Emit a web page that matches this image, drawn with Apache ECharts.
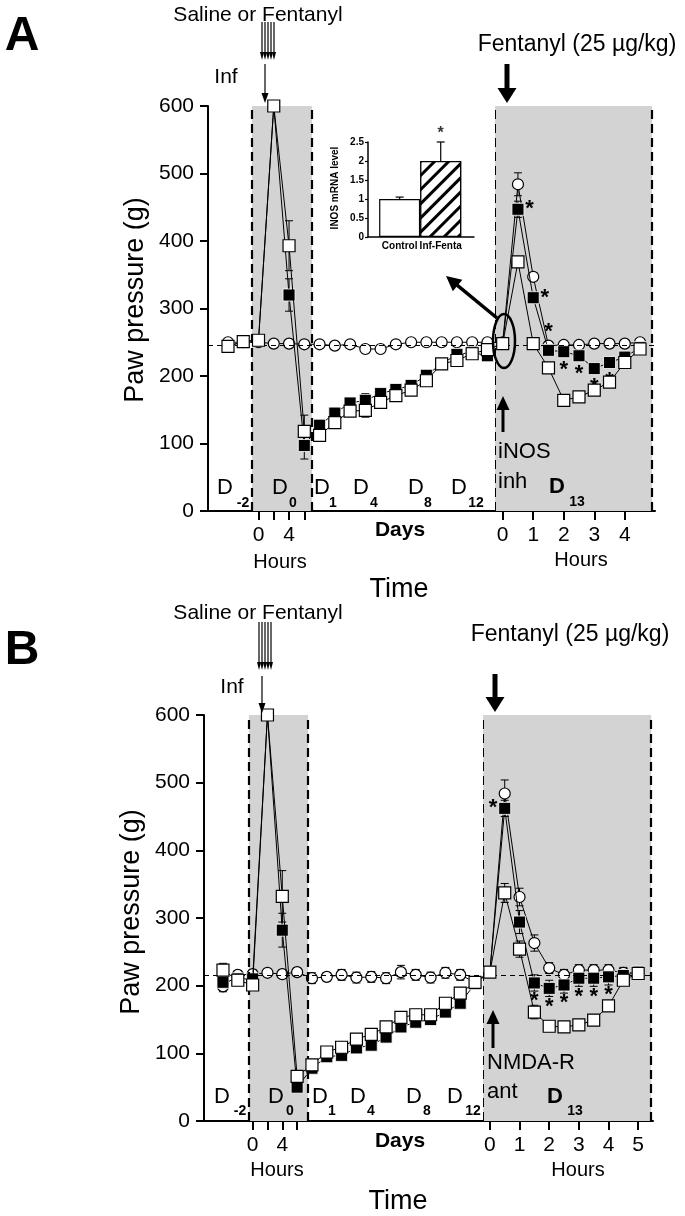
<!DOCTYPE html>
<html><head><meta charset="utf-8">
<script src="https://cdn.jsdelivr.net/npm/echarts@6/dist/echarts.min.js"></script>
<style>html,body{margin:0;padding:0;background:#fff}#c{width:685px;height:1216px}</style>
</head><body><div id="c"></div>
<script>
// ---------------- DATA ----------------
// x = time slot index (D-2 baselines, D0 hours, days D1..D12, D13 half-hours)
const yTicks = [0, 100, 200, 300, 400, 500, 600];
// Panel A
const circlesA = [250,250,250,248,248,247,247,245,247,240,240,247,250,250,250,250,250,250, 250,484,347,245,246,246,248,248,248,250];
const openA    = [244,251,253,600,393,118,112,131,148,149,161,171,179,193,218,223,233,239, 248,369,248,212,164,169,179,191,220,240];
const filledA  = [244,251,253,600,320, 97,127,145,160,164,174,180,186,201,218,232,235,230, 248,447,316,238,236,230,211,220,228,242];
const errCircA   = [0,0,0,0,0,0,0,0,0,0,0,0,0,0,0,0,0,0, 0,17,6,0,0,0,0,0,0,0];
const errOpenA   = [8,8,6,0,37,24,6,6,6,10,6,6,6,6,6,6,6,6, 0,8,0,6,6,6,6,6,6,6];
const errFilledA = [6,6,6,0,24,20,8,8,8,10,6,6,6,6,6,6,6,6, 0,12,8,6,6,6,6,6,6,6];
const starsA = ['','','','','','','','','','','','','','','','','','', '','right','right','top','bottom','bottom','bottom','bottom','',''];
const baselineA = 245;
const hourTicksA  = [2,3,4,5, 18,20,22,24,26];
const hourLabelsA = ['0','','4','', '0','1','2','3','4'];
// Panel B
const circlesB = [199,216,217,219,217,220,211,213,216,212,213,211,220,216,212,219,216,205, 220,484,331,263,226,216,223,223,223,219,219];
const openB    = [223,208,201,600,332, 66, 83,102,109,121,128,139,153,157,157,174,189,205, 220,337,254,161,140,139,142,149,170,208,218];
const filledB  = [205,210,210,600,282, 50, 78, 95, 97,108,112,124,139,146,150,161,174,203, 220,462,294,204,196,201,211,211,213,215,220];
const errCircB   = [8,6,6,0,6,6,8,6,8,8,8,8,10,8,8,8,8,8, 8,20,13,12,8,8,8,8,8,8,8];
const errOpenB   = [10,8,8,0,38,8,8,8,8,8,8,8,8,8,8,8,8,8, 8,14,12,10,8,8,8,8,8,8,8];
const errFilledB = [6,6,6,0,25,6,6,6,6,6,6,6,6,6,6,6,6,6, 6,12,17,12,12,12,12,12,12,10,8];
const starsB = ['','','','','','','','','','','','','','','','','','', '','left','','bottom','bottom','bottom','bottom','bottom','bottom','',''];
const baselineB = 216;
const hourTicksB  = [2,3,4,5, 18,20,22,24,26,28];
const hourLabelsB = ['0','','4','', '0','1','2','3','4','5'];
// Inset (iNOS mRNA level)
const insetCats = ['Control', 'Inf-Fenta'];
const insetVals = [1.0, 2.0];
const insetErr  = [0.05, 0.5];
const insetStars = ['', '*'];
const insetTicks = [0, 0.5, 1, 1.5, 2, 2.5];

// ---------------- HELPERS ----------------
const FF = '"Liberation Sans", Arial, Helvetica, sans-serif';
function errRender(params, api) {
  const x = api.value(0), v = api.value(1), e = api.value(2);
  if (!e) return null;
  const t = api.coord([x, v + e]), b = api.coord([x, v - e]);
  const w = 4, st = {stroke: '#000', lineWidth: 1};
  return {type: 'group', children: [
    {type: 'line', shape: {x1: t[0], y1: t[1], x2: b[0], y2: b[1]}, style: st},
    {type: 'line', shape: {x1: t[0]-w, y1: t[1], x2: t[0]+w, y2: t[1]}, style: st},
    {type: 'line', shape: {x1: b[0]-w, y1: b[1], x2: b[0]+w, y2: b[1]}, style: st}]};
}
function errSeries(idx, vals, errs) {
  return {type: 'custom', xAxisIndex: idx, yAxisIndex: idx, z: 2, silent: true,
    renderItem: errRender, encode: {x: 0, y: 1},
    data: vals.map((v, i) => [i, v, errs[i]])};
}
function panelSeries(idx, circ, open, filled, eC, eO, eF, stars, baseline, shades, edges) {
  const lineStyle = {color: '#000', width: 1};
  return [
    {type: 'line', xAxisIndex: idx, yAxisIndex: idx, z: 1, silent: true, showSymbol: false, symbol: 'none',
     lineStyle: {width: 0, opacity: 0}, data: circ.map((v, i) => [i, v]),
     markArea: {silent: true, itemStyle: {color: '#d3d3d3'},
       data: shades.map(s => [{xAxis: s[0], yAxis: 0}, {xAxis: s[1], yAxis: 600}])},
     markLine: {silent: true, symbol: ['none', 'none'], label: {show: false}, animation: false,
       data: [{yAxis: baseline, lineStyle: {color: '#000', width: 1.2, type: [5, 4]}}].concat(
         edges.map(e => ({xAxis: e[0], lineStyle: {color: '#000', width: e[1], type: [9, 5]}})))}},
    errSeries(idx, circ, eC), errSeries(idx, filled, eF), errSeries(idx, open, eO),
    {type: 'line', xAxisIndex: idx, yAxisIndex: idx, z: 3, symbol: 'circle', symbolSize: 11,
     lineStyle, itemStyle: {color: '#fff', borderColor: '#000', borderWidth: 1.2},
     data: circ.map((v, i) => [i, v])},
    {type: 'line', xAxisIndex: idx, yAxisIndex: idx, z: 4, symbol: 'rect', symbolSize: 12,
     lineStyle, itemStyle: {color: '#000', borderColor: '#fff', borderWidth: 0.8},
     data: filled.map((v, i) => ({value: [i, v], label: stars[i] ? {show: true, formatter: '*',
       position: stars[i], distance: 1, fontSize: 22, fontWeight: 'bold', color: '#000', fontFamily: FF} : {show: false}}))},
    {type: 'line', xAxisIndex: idx, yAxisIndex: idx, z: 5, symbol: 'rect', symbolSize: 12,
     lineStyle, itemStyle: {color: '#fff', borderColor: '#000', borderWidth: 1.2},
     data: open.map((v, i) => [i, v])}
  ];
}
function xAxisFor(idx, min, max, ticks, labels) {
  const map = {};
  ticks.forEach((t, i) => { map[t] = labels[i]; });
  return {type: 'value', gridIndex: idx, min, max, splitLine: {show: false},
    axisLine: {show: true, onZero: false, lineStyle: {color: '#000', width: 2}},
    axisTick: {show: true, customValues: ticks, length: 9, lineStyle: {color: '#000', width: 2}},
    axisLabel: {customValues: ticks.filter((t, i) => labels[i] !== ''), formatter: v => map[v] ?? '',
      fontSize: 21, color: '#000', margin: 14, fontFamily: FF}};
}
function yAxisFor(idx) {
  return {type: 'value', gridIndex: idx, min: yTicks[0], max: yTicks[yTicks.length - 1], interval: 100,
    splitLine: {show: false}, axisLine: {show: true, onZero: false, lineStyle: {color: '#000', width: 2}},
    axisTick: {show: true, length: 8, lineStyle: {color: '#000', width: 2}},
    axisLabel: {fontSize: 21, color: '#000', margin: 14, fontFamily: FF}};
}
function T(text, x, y, size, o) {
  o = o || {};
  return {type: 'text', x, y, rotation: o.rot || 0, z: 100,
    style: {text, fontSize: size, fontFamily: FF, fontWeight: o.bold ? 'bold' : 'normal', fill: '#000',
      align: o.align || 'center', verticalAlign: 'middle'}};
}
function arrow(x1, y1, x2, y2, lw, hw, hl) {
  const dx = x2 - x1, dy = y2 - y1, L = Math.hypot(dx, dy), ux = dx / L, uy = dy / L;
  const bx = x2 - ux * hl, by = y2 - uy * hl, px = -uy, py = ux;
  return [
    {type: 'line', z: 100, shape: {x1, y1, x2: bx + ux, y2: by + uy}, style: {stroke: '#000', lineWidth: lw}},
    {type: 'polygon', z: 100, shape: {points: [[x2, y2], [bx + px * hw / 2, by + py * hw / 2], [bx - px * hw / 2, by - py * hw / 2]]},
     style: {fill: '#000'}}];
}
function D(x, y, sub, sx, sy, bold) {
  return [T('D', x, y, 22, {bold}), T(sub, sx, sy, 14, {bold: true})];
}

// ---------------- GRAPHICS (annotations) ----------------
let g = [];
// Panel A
g.push(T('A', 22, 37, 48, {bold: true}));
g.push(T('Saline or Fentanyl', 258, 15, 21));
[262, 265, 268, 271, 274].forEach(x => { g = g.concat(arrow(x, 22, x, 60, 1.2, 4, 8)); });
g.push(T('Inf', 226, 77, 21));
g = g.concat(arrow(265, 64, 265, 103, 1.2, 7, 10));
g.push(T('Fentanyl (25 µg/kg)', 577, 45, 23));
g = g.concat(arrow(507, 64, 507, 103, 5, 19, 15));
g.push({type: 'ellipse', z: 100, shape: {cx: 504, cy: 341, rx: 11, ry: 27}, style: {fill: 'none', stroke: '#000', lineWidth: 2.5}});
g = g.concat(arrow(497, 318, 446, 276, 3.5, 15, 15));
g = g.concat(arrow(503, 432, 503, 396, 3, 13, 14));
g.push(T('iNOS', 498, 452, 22, {align: 'left'}));
g.push(T('inh', 498, 482, 22, {align: 'left'}));
g = g.concat(D(225, 488, '-2', 243, 503), D(280, 488, '0', 293, 503), D(322, 488, '1', 333, 503),
  D(361, 488, '4', 374, 503), D(416, 488, '8', 428, 503), D(459, 488, '12', 476, 503), D(557, 487, '13', 577, 502, true));
g.push(T('Days', 400, 530, 21, {bold: true}));
g.push(T('Hours', 280, 562, 20));
g.push(T('Hours', 581, 560, 20));
g.push(T('Time', 399, 590, 27));
g.push(T('Paw pressure (g)', 136, 300, 27, {rot: Math.PI / 2}));
g.push(T('INOS mRNA level', 335, 188, 10, {rot: Math.PI / 2, bold: true}));
// Panel B
g.push(T('B', 22, 651, 48, {bold: true}));
g.push(T('Saline or Fentanyl', 258, 613, 21));
[259, 262, 265, 268, 271].forEach(x => { g = g.concat(arrow(x, 622, x, 670, 1.2, 4, 8)); });
g.push(T('Inf', 232, 687, 21));
g = g.concat(arrow(262, 676, 262, 713, 1.2, 7, 10));
g.push(T('Fentanyl (25 µg/kg)', 570, 635, 23));
g = g.concat(arrow(495, 674, 495, 712, 5, 19, 15));
g = g.concat(arrow(493, 1048, 493, 1010, 3, 13, 14));
g.push(T('NMDA-R', 487, 1063, 22, {align: 'left'}));
g.push(T('ant', 487, 1092, 22, {align: 'left'}));
g = g.concat(D(222, 1097, '-2', 240, 1111), D(276, 1097, '0', 290, 1111), D(320, 1097, '1', 332, 1111),
  D(358, 1097, '4', 371, 1111), D(414, 1097, '8', 427, 1111), D(455, 1097, '12', 473, 1111), D(555, 1097, '13', 575, 1111, true));
g.push(T('Days', 400, 1141, 21, {bold: true}));
g.push(T('Hours', 277, 1170, 20));
g.push(T('Hours', 578, 1170, 20));
g.push(T('Time', 398, 1202, 27));
g.push(T('Paw pressure (g)', 132, 912, 27, {rot: Math.PI / 2}));

// ---------------- CHART ----------------
const chart = echarts.init(document.getElementById('c'), null, {renderer: 'canvas'});
function insetErrRender(params, api) {
  const i = params.dataIndex, v = insetVals[i], e = insetErr[i];
  const t = api.coord([i, v + e]), b = api.coord([i, v]);
  const w = 4, st = {stroke: '#000', lineWidth: 1.2};
  return {type: 'group', children: [
    {type: 'line', shape: {x1: t[0], y1: t[1], x2: b[0], y2: b[1]}, style: st},
    {type: 'line', shape: {x1: t[0]-w, y1: t[1], x2: t[0]+w, y2: t[1]}, style: st}]};
}
const series = [].concat(
  panelSeries(0, circlesA, openA, filledA, errCircA, errOpenA, errFilledA, starsA, baselineA,
    [[1.57, 5.5], [17.5, 27.79]], [[1.57, 2.2], [5.5, 2.2], [17.5, 1], [27.79, 2.2]]),
  panelSeries(1, circlesB, openB, filledB, errCircB, errOpenB, errFilledB, starsB, baselineB,
    [[1.75, 5.74], [17.54, 28.88]], [[1.75, 2.2], [5.74, 2.2], [17.54, 1], [28.88, 2.2]]),
  [
    {type: 'bar', xAxisIndex: 2, yAxisIndex: 2, barWidth: 41, z: 10, silent: true,
     data: insetVals.map((v, i) => ({value: [i, v], itemStyle: i === 0 ?
       {color: '#fff', borderColor: '#000', borderWidth: 1.2} :
       {color: '#fff', borderColor: '#000', borderWidth: 1.2,
        decal: {symbol: 'rect', symbolSize: 1, dashArrayX: [[1, 0]], dashArrayY: [2.5, 7], rotation: -Math.PI / 4,
                color: '#000', backgroundColor: '#fff'}}}))},
    {type: 'custom', xAxisIndex: 2, yAxisIndex: 2, z: 11, silent: true, renderItem: insetErrRender,
     encode: {x: 0, y: 1}, data: insetVals.map((v, i) => [i, v])},
    {type: 'scatter', xAxisIndex: 2, yAxisIndex: 2, z: 12, symbolSize: 0, silent: true,
     data: insetVals.map((v, i) => ({value: [i, v + insetErr[i]],
       label: {show: !!insetStars[i], formatter: insetStars[i] || ' ', position: 'top', distance: 0,
         fontSize: 16, fontWeight: 'bold', color: '#000'}}))}
  ]);
chart.setOption({
  animation: false,
  backgroundColor: '#fff',
  grid: [
    {left: 208, top: 106, width: 447, height: 405},
    {left: 204, top: 715, width: 449, height: 406},
    {left: 368, top: 142, width: 106, height: 95, z: 10}
  ],
  xAxis: [
    xAxisFor(0, -1.31, 27.98, hourTicksA, hourLabelsA),
    xAxisFor(1, -1.28, 29.0, hourTicksB, hourLabelsB),
    {type: 'value', gridIndex: 2, min: -0.77, max: 1.81, splitLine: {show: false},
     axisLine: {show: true, onZero: false, lineStyle: {color: '#000', width: 1.5}}, axisTick: {show: false},
     axisLabel: {customValues: [0, 1], formatter: v => insetCats[Math.round(v)] || '', fontSize: 10, fontWeight: 'bold',
       color: '#000', margin: 4, fontFamily: FF}}
  ],
  yAxis: [
    yAxisFor(0), yAxisFor(1),
    {type: 'value', gridIndex: 2, min: insetTicks[0], max: insetTicks[insetTicks.length - 1], interval: 0.5,
     splitLine: {show: false}, axisLine: {show: true, onZero: false, lineStyle: {color: '#000', width: 1.5}},
     axisTick: {show: true, length: 3, lineStyle: {color: '#000', width: 1.2}},
     axisLabel: {fontSize: 10, fontWeight: 'bold', color: '#000', margin: 4, fontFamily: FF}}
  ],
  series,
  graphic: g
});
</script></body></html>
